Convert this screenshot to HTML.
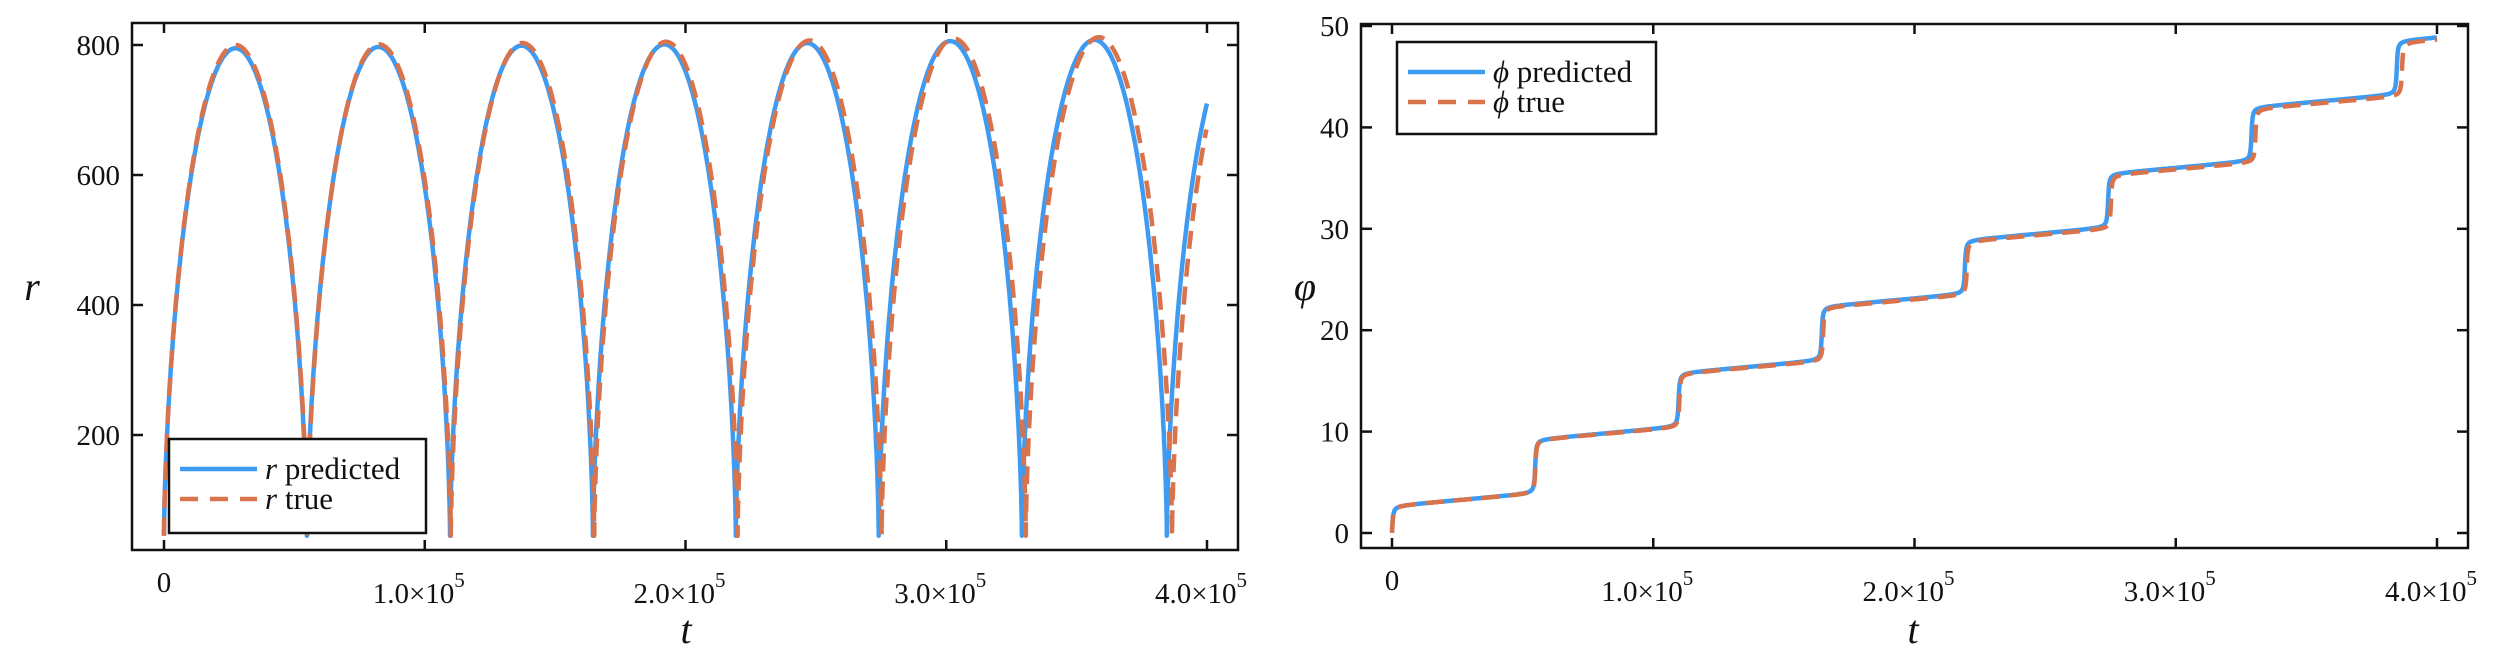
<!DOCTYPE html>
<html><head><meta charset="utf-8"><style>
body{margin:0;background:#fff}
svg{display:block}
text{font-family:"Liberation Serif","DejaVu Serif",serif;fill:#111}
</style></head><body>
<svg id="chart" width="2500" height="662" viewBox="0 0 2500 662"></svg>
<script>
// ---- data ----
const rTicks=[200,400,600,800];
const phiTicks=[0,10,20,30,40,50];
const tTicks=[0,1e5,2e5,3e5,4e5];
const tTickLabels=["0","1.0","2.0","3.0","4.0"];
// periapsis times (minima of r)
const predMinT=[0,0.548e5,1.097e5,1.645e5,2.193e5,2.741e5,3.290e5,3.846e5];
const trueMinT=[0,0.549e5,1.100e5,1.650e5,2.200e5,2.752e5,3.305e5,3.866e5];
const predPeak=[795,797,799,801,803,806,808,808];
const truePeak=[800,801,803,805,807,810,812,812];
const rMin=[45,45];
// phi steps
const predStepH=[5.35,5.35,5.35,5.35,5.35,5.35,5.35,5.35];
const trueStepH=[5.35,5.35,5.35,5.35,5.35,5.35,5.35,5.35];
const phiDrift=[2.2,2.15]; // per 1e5
const tEnd=4e5;

const NS="http://www.w3.org/2000/svg";
const svg=document.getElementById('chart');
function mk(tag,attrs,parent){const e=document.createElementNS(NS,tag);for(const k in attrs)e.setAttribute(k,attrs[k]);(parent||svg).appendChild(e);return e;}

const L={x0:132,x1:1238,y0:23,y1:550,tx:t=>164+t*260.75/1e5,ty:v=>45+(800-v)*0.65};
const R={x0:1361,x1:2468,y0:24,y1:548,tx:t=>1392+t*261.25/1e5,ty:v=>533-v*10.14};

function rCurve(minT,peak,rmin){
  const pts=[];
  for(let k=0;k<minT.length;k++){
    const t0=minT[k];
    const P=(k+1<minT.length)?minT[k+1]-t0:(minT[k]-minT[k-1]);
    for(let i=0;i<=240;i++){
      const eta=2*Math.PI*i/240;
      const t=t0+P*(eta-Math.sin(eta))/(2*Math.PI);
      if(t>tEnd){break;}
      pts.push([t,rmin+(peak[k]-rmin)*(1-Math.cos(eta))/2]);
    }
  }
  return pts;
}
function phiCurve(stepT,H,drift){
  const pts=[];const w=0.003e5;
  const ts=[];
  for(let i=0;i<=800;i++)ts.push(tEnd*i/800);
  stepT.forEach(s=>{for(let j=-40;j<=40;j++){const t=s+j*w*0.25;if(t>=0&&t<=tEnd)ts.push(t);}});
  ts.sort((a,b)=>a-b);
  ts.forEach(t=>{
    let v=drift*t/1e5-H[0]/2;
    stepT.forEach((s,k)=>{v+=H[k]*(0.5+Math.atan((t-s)/w)/Math.PI);});
    pts.push([t,v]);
  });
  return pts;
}
function pathD(pts,P){return pts.map((p,i)=>(i?'L':'M')+P.tx(p[0]).toFixed(1)+','+P.ty(p[1]).toFixed(1)).join('');}

function frame(P,yTicks,name){
  const g=mk('g',{});
  
  
  const fr=mk('rect',{x:P.x0,y:P.y0,width:P.x1-P.x0,height:P.y1-P.y0,fill:'none',stroke:'#111','stroke-width':2.5},g);
  
  tTicks.forEach((t,i)=>{
    const x=P.tx(t);
    mk('line',{x1:x,x2:x,y1:P.y1,y2:P.y1-10,stroke:'#111','stroke-width':2.5},g);
    mk('line',{x1:x,x2:x,y1:P.y0,y2:P.y0+10,stroke:'#111','stroke-width':2.5},g);
    const tx=mk('text',{x:x,y:P.y1+42,'text-anchor':'middle','font-size':29},g);
    
    if(i===0){tx.textContent='0';}
    else{tx.setAttribute('y',P.y1+53);tx.setAttribute('x',x-6);tx.textContent=tTickLabels[i]+'×10';
      const sp=mk('tspan',{dy:-16,'font-size':21},tx);sp.textContent='5';}
  });
  yTicks.forEach(v=>{
    const y=P.ty(v);
    mk('line',{x1:P.x0,x2:P.x0+11,y1:y,y2:y,stroke:'#111','stroke-width':2.5},g);
    mk('line',{x1:P.x1,x2:P.x1-11,y1:y,y2:y,stroke:'#111','stroke-width':2.5},g);
    const tx=mk('text',{x:P.x0-12,y:y+10,'text-anchor':'end','font-size':29},g);
    
    tx.textContent=v;
  });
}
frame(L,rTicks,'r-plot');
frame(R,phiTicks,'phi-plot');

function series(d,color,dash,name){
  const p=mk('path',{d:d,fill:'none',stroke:color,'stroke-width':4.5,'stroke-linejoin':'round'});
  if(dash)p.setAttribute('stroke-dasharray',dash);
  
  
}
const BLUE='#3f9bf2',ORG='#d9734b';
series(pathD(rCurve(predMinT,predPeak,rMin[0]),L),BLUE,null,'r-predicted-line');
series(pathD(rCurve(trueMinT,truePeak,rMin[1]),L),ORG,'18 10','r-true-line');
series(pathD(phiCurve(predMinT,predStepH,phiDrift[0]),R),BLUE,null,'phi-predicted-line');
series(pathD(phiCurve(trueMinT,trueStepH,phiDrift[1]),R),ORG,'18 10','phi-true-line');

function legend(x,y,w,h,sym,name){
  const g=mk('g',{});
  
  mk('rect',{x:x,y:y,width:w,height:h,fill:'#fff',stroke:'#111','stroke-width':2.5},g);
  const rows=[['predicted',BLUE,null],['true',ORG,'18 12']];
  rows.forEach((r,i)=>{
    const yy=y+30+i*30;
    const ln=mk('line',{x1:x+11,x2:x+88,y1:yy,y2:yy,stroke:r[1],'stroke-width':4.5},g);
    if(r[2])ln.setAttribute('stroke-dasharray',r[2]);
    const t=mk('text',{x:x+96,y:yy+10,'font-size':31},g);
    
    const s=mk('tspan',{'font-style':'italic'},t);s.textContent=sym;
    const s2=mk('tspan',{},t);s2.textContent=' '+r[0];
  });
}
legend(169,439,257,94,'r','r-legend');
legend(1397,42,259,92,'ϕ','phi-legend');

function label(x,y,txt,name){const t=mk('text',{x:x,y:y,'font-size':40,'font-style':'italic','text-anchor':'middle'});t.textContent=txt;}
label(686,643,'t','r-plot-x-axis-title');
label(1913,643,'t','phi-plot-x-axis-title');
label(32,300,'r','r-axis-title');
label(1305,300,'φ','phi-axis-title');
</script>
</body></html>
